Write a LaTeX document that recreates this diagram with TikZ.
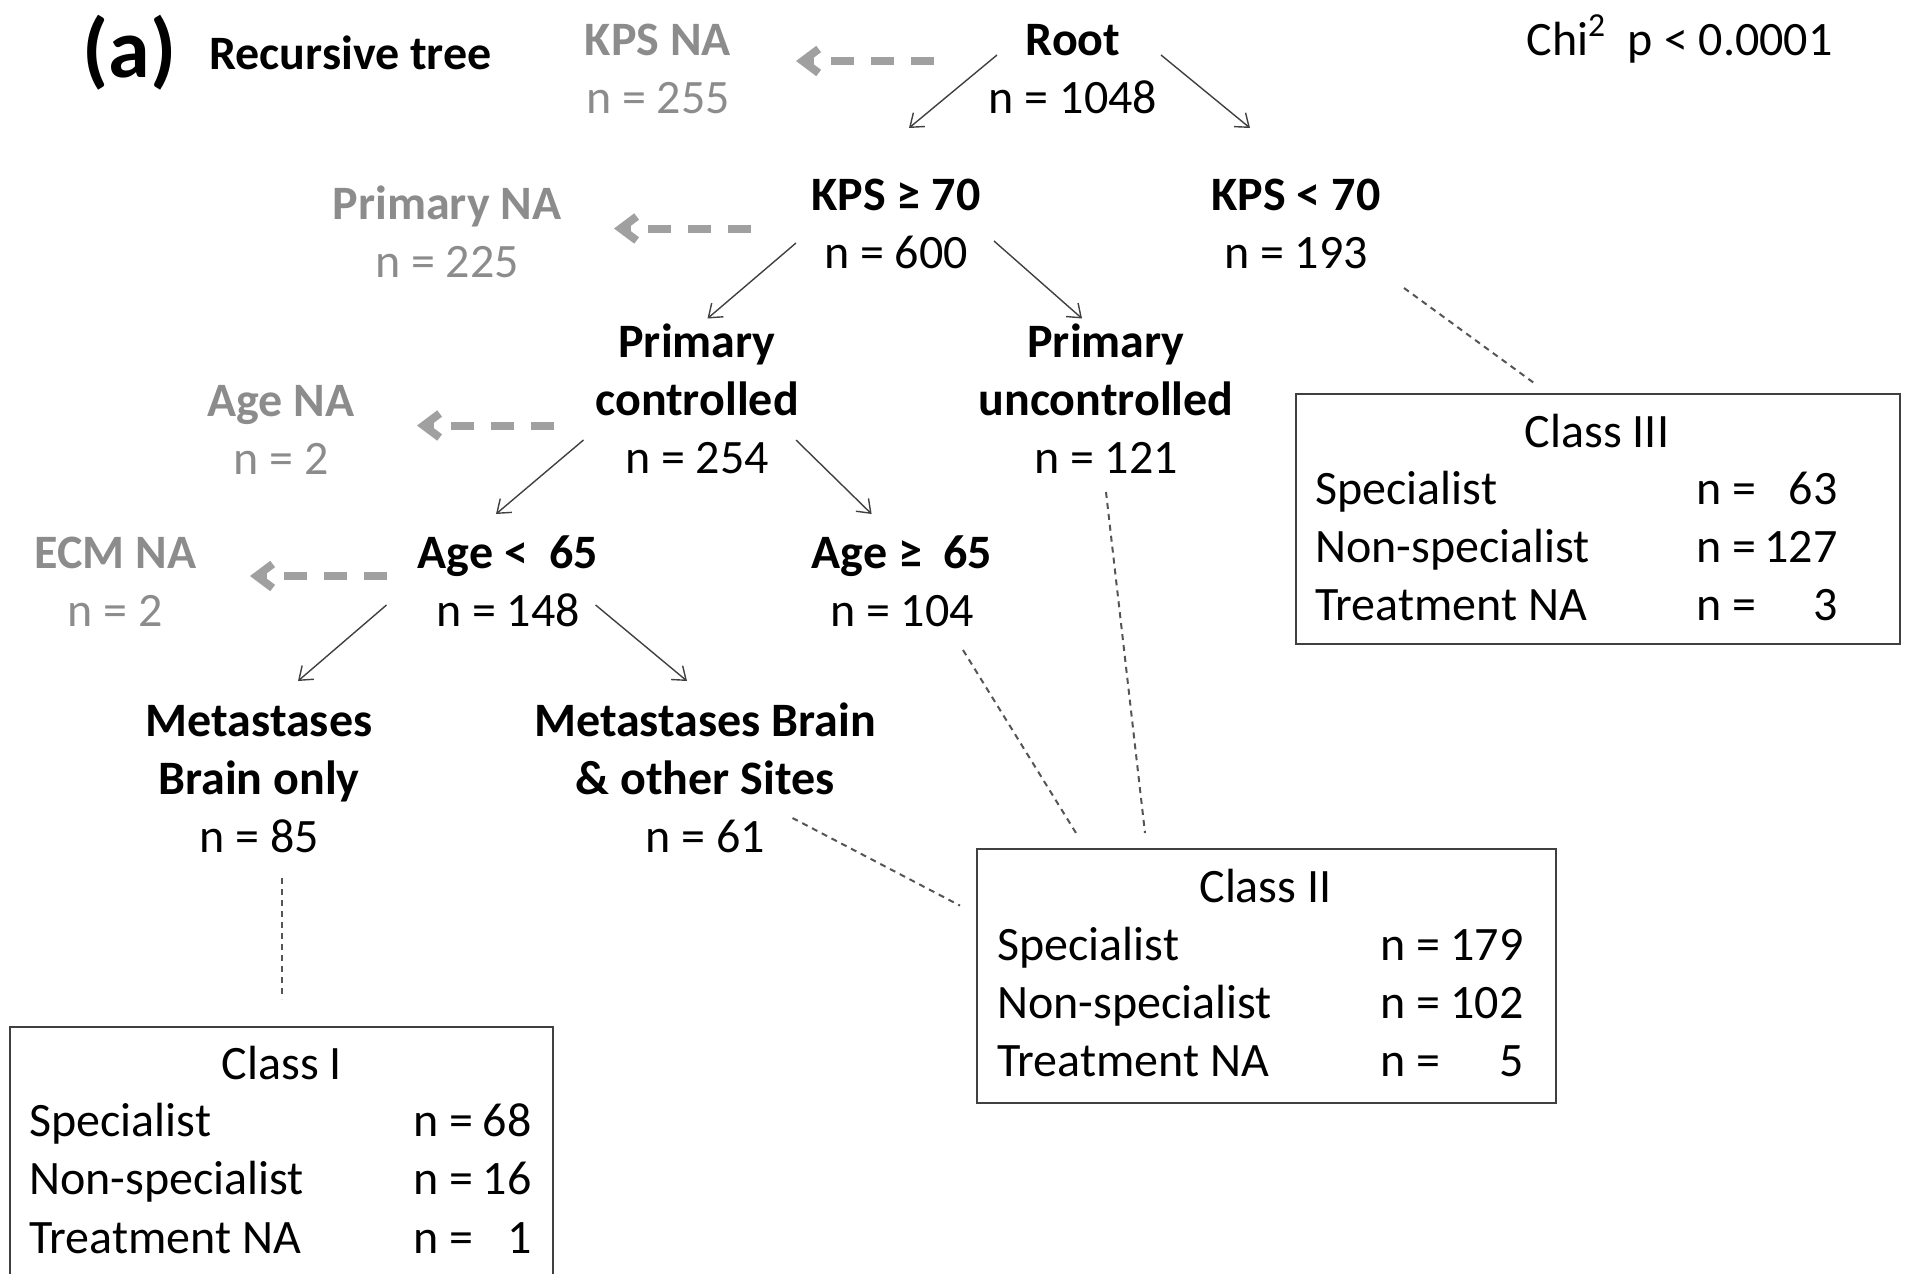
\documentclass[tikz,border=0pt]{standalone}
\usepackage{fontspec}
\setmainfont{Carlito}
\usetikzlibrary{arrows.meta}
\definecolor{naGray}{HTML}{8C8C8C}
\definecolor{naArrow}{HTML}{A0A0A0}
\definecolor{lineDark}{HTML}{404040}
\definecolor{dotGray}{HTML}{555555}
\tikzset{
  treenode/.style={align=center, inner sep=0pt, font=\fontsize{24}{29}\selectfont, text=black},
  nanode/.style={treenode, text=naGray},
  split/.style={draw=lineDark, line width=0.7pt, -{Straight Barb[length=6pt,width=9pt]}},
  naarrow/.style={draw=naArrow, line width=4pt, dash pattern=on 11.5pt off 8.5pt, -{Straight Barb[length=8pt,width=12pt]}},
  link/.style={draw=dotGray, line width=1pt, dash pattern=on 3pt off 2.5pt},
  classbox/.style={draw=lineDark, line width=1pt, inner sep=0pt},
  boxtxt/.style={inner sep=0pt, font=\fontsize{24}{29}\selectfont},
  rowl/.style={boxtxt, anchor=base west},
  rowr/.style={boxtxt, anchor=base east},
  boxtitle/.style={boxtxt, anchor=base}
}
\begin{document}
\begin{tikzpicture}[x=0.5pt, y=-0.5pt]
\useasboundingbox (0,0) rectangle (1906,1274);

% headings
\node[inner sep=0pt, anchor=base, font=\fontsize{42}{50}\selectfont\bfseries] (tag) at (129.5,77) {(a)};
\node[inner sep=0pt, anchor=base west, font=\fontsize{24}{29}\selectfont\bfseries] (title) at (209,69) {Recursive tree};
\node[boxtxt, anchor=base west] (chi) at (1526,55) {Chi\textsuperscript{2}\ \ p < 0.0001};

% tree nodes
\node[treenode] (root)  at (1073,73)    {\textbf{Root}\strut\\n = 1048\strut};
\node[nanode]   (kpsna) at (658,73)     {\textbf{KPS NA}\strut\\n = 255\strut};
\node[treenode] (kpshi) at (896,227.5)  {\textbf{KPS ≥ 70}\strut\\n = 600\strut};
\node[treenode] (kpslo) at (1296,227.5) {\textbf{KPS < 70}\strut\\n = 193\strut};
\node[nanode]   (primna) at (447,237)   {\textbf{Primary NA}\strut\\n = 225\strut};
\node[treenode] (primc) at (697,403.5)  {\textbf{Primary}\strut\\\textbf{controlled}\strut\\n = 254\strut};
\node[treenode] (primu) at (1106,403.5) {\textbf{Primary}\strut\\\textbf{uncontrolled}\strut\\n = 121\strut};
\node[nanode]   (agena) at (281,434)    {\textbf{Age NA}\strut\\n = 2\strut};
\node[treenode] (agelo) at (508,586)    {\textbf{Age <\ \ 65}\strut\\n = 148\strut};
\node[treenode] (agehi) at (902,586)    {\textbf{Age ≥\ \ 65}\strut\\n = 104\strut};
\node[nanode]   (ecmna) at (115.5,586)  {\textbf{ECM NA}\strut\\n = 2\strut};
\node[treenode] (metb)  at (259,783)    {\textbf{Metastases}\strut\\\textbf{Brain only}\strut\\n = 85\strut};
\node[treenode] (meto)  at (705,783)    {\textbf{Metastases Brain}\strut\\\textbf{\& other Sites}\strut\\n = 61\strut};

% class boxes
\node[classbox, minimum width=302pt, minimum height=125pt] (c3) at (1598,519) {};
\node[boxtitle] (c3t) at (1597,447) {Class III};
\node[rowl] (c3a) at (1315,504)   {Specialist};
\node[rowl] (c3b) at (1315,562.5) {Non-specialist};
\node[rowl] (c3c) at (1315,620.5) {Treatment NA};
\node[rowl] (c3an) at (1696,504)   {n =};
\node[rowl] (c3bn) at (1696,562.5) {n =};
\node[rowl] (c3cn) at (1696,620.5) {n =};
\node[rowr] (c3av) at (1838,504)   {63};
\node[rowr] (c3bv) at (1838,562.5) {127};
\node[rowr] (c3cv) at (1838,620.5) {3};

\node[classbox, minimum width=289.5pt, minimum height=127pt] (c2) at (1266.5,975.5) {};
\node[boxtitle] (c2t) at (1265.5,902.5) {Class II};
\node[rowl] (c2a) at (997,960)    {Specialist};
\node[rowl] (c2b) at (997,1018.5) {Non-specialist};
\node[rowl] (c2c) at (997,1076.5) {Treatment NA};
\node[rowl] (c2an) at (1380,960)    {n =};
\node[rowl] (c2bn) at (1380,1018.5) {n =};
\node[rowl] (c2cn) at (1380,1076.5) {n =};
\node[rowr] (c2av) at (1524,960)    {179};
\node[rowr] (c2bv) at (1524,1018.5) {102};
\node[rowr] (c2cv) at (1524,1076.5) {5};

\node[classbox, minimum width=271.5pt, minimum height=136.5pt] (c1) at (281.5,1163.5) {};
\node[boxtitle] (c1t) at (282,1079) {Class I};
\node[rowl] (c1a) at (29,1136.5) {Specialist};
\node[rowl] (c1b) at (29,1194.5) {Non-specialist};
\node[rowl] (c1c) at (29,1253)   {Treatment NA};
\node[rowl] (c1an) at (413,1136.5) {n =};
\node[rowl] (c1bn) at (413,1194.5) {n =};
\node[rowl] (c1cn) at (413,1253)   {n =};
\node[rowr] (c1av) at (532,1136.5) {68};
\node[rowr] (c1bv) at (532,1194.5) {16};
\node[rowr] (c1cv) at (532,1253)   {1};

% connector end points
\coordinate (root-l) at (997,55);    \coordinate (kpshi-in) at (909,128);
\coordinate (root-r) at (1161,55);   \coordinate (kpslo-in) at (1250,128);
\coordinate (kpshi-l) at (796,243);  \coordinate (primc-in) at (707.5,318.5);
\coordinate (kpshi-r) at (994,241);  \coordinate (primu-in) at (1082,318.5);
\coordinate (primc-l) at (583.5,440); \coordinate (agelo-in) at (496,514);
\coordinate (primc-r) at (796,440);  \coordinate (agehi-in) at (871.6,514);
\coordinate (agelo-l) at (386.5,605); \coordinate (metb-in) at (298,681);
\coordinate (agelo-r) at (595.6,605); \coordinate (meto-in) at (687,681);

\coordinate (root-na) at (933.6,61);  \coordinate (kpsna-in) at (796,61);
\coordinate (kpshi-na) at (751,228.5); \coordinate (primna-in) at (614,228.5);
\coordinate (primc-na) at (554,425.5); \coordinate (agena-in) at (417,425.5);
\coordinate (agelo-na) at (386.5,576); \coordinate (ecmna-in) at (250,576);

\coordinate (kpslo-out) at (1404,288); \coordinate (c3-in) at (1534,383);
\coordinate (agehi-out) at (963,650);  \coordinate (c2-in1) at (1076,833);
\coordinate (primu-out) at (1106,492); \coordinate (c2-in2) at (1145,833);
\coordinate (meto-out) at (792.5,818); \coordinate (c2-in3) at (960,905.6);
\coordinate (metb-out) at (282,878);   \coordinate (c1-in) at (282,999);

% tree splits
\draw[split] (root-l) -- (kpshi-in);
\draw[split] (root-r) -- (kpslo-in);
\draw[split] (kpshi-l) -- (primc-in);
\draw[split] (kpshi-r) -- (primu-in);
\draw[split] (primc-l) -- (agelo-in);
\draw[split] (primc-r) -- (agehi-in);
\draw[split] (agelo-l) -- (metb-in);
\draw[split] (agelo-r) -- (meto-in);

% missing-value arrows
\draw[naarrow] (root-na) -- (kpsna-in);
\draw[naarrow] (kpshi-na) -- (primna-in);
\draw[naarrow] (primc-na) -- (agena-in);
\draw[naarrow] (agelo-na) -- (ecmna-in);

% links to classes
\draw[link] (kpslo-out) -- (c3-in);
\draw[link] (agehi-out) -- (c2-in1);
\draw[link] (primu-out) -- (c2-in2);
\draw[link] (meto-out) -- (c2-in3);
\draw[link] (metb-out) -- (c1-in);
\end{tikzpicture}
\end{document}
